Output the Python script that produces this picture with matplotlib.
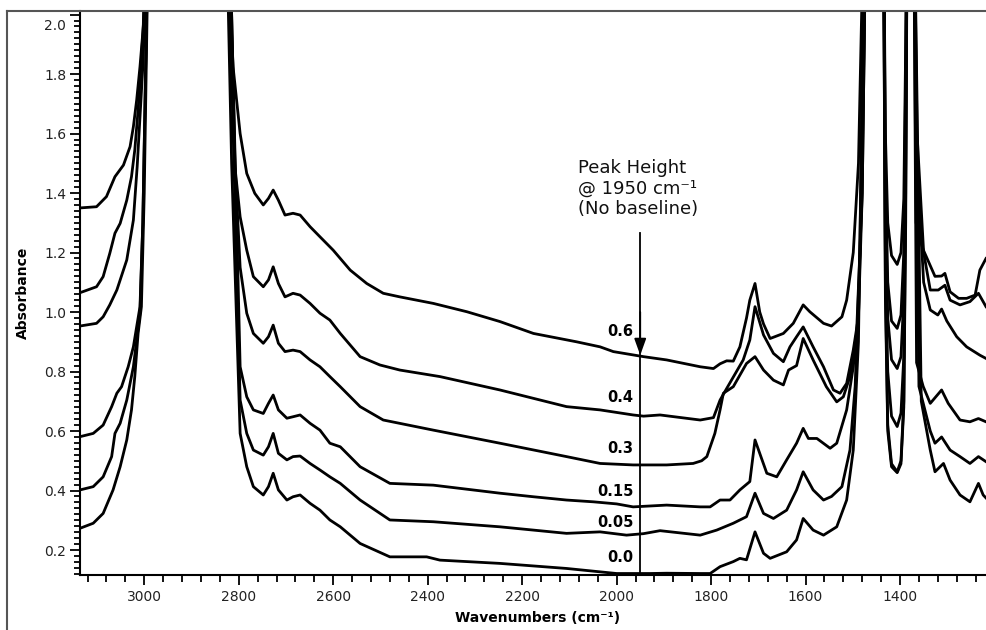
import matplotlib.pyplot as plt
from matplotlib.lines import Line2D
from matplotlib.ticker import MultipleLocator, FormatStrFormatter
from matplotlib.transforms import ScaledTranslation

# ---- spectra (wavenumber, absorbance) ----
wn_60 = [3136, 3101, 3080, 3062, 3044, 3030, 3023, 3016, 3009, 3003, 2999, 2990, 2830,
         2825, 2812, 2797, 2783, 2766, 2748, 2737, 2727, 2716, 2702, 2685, 2670, 2649,
         2628, 2600, 2564, 2529, 2494, 2459, 2388, 2317, 2247, 2176, 2085, 2035, 2007,
         1943, 1894, 1823, 1795, 1781, 1767, 1753, 1739, 1725, 1718, 1707, 1697, 1689,
         1675, 1647, 1626, 1605, 1591, 1562, 1545, 1523, 1513, 1499, 1488, 1480, 1470,
         1436, 1431, 1426, 1418, 1406, 1398, 1392, 1388, 1384, 1372, 1366, 1357, 1351, 1326,
         1312, 1305, 1294, 1276, 1259, 1241, 1231, 1218]
ab_60 = [1.35, 1.354, 1.388, 1.455, 1.494, 1.556, 1.623, 1.713, 1.825, 1.94, 2.03, 2.6, 2.6,
         2.3, 1.825, 1.60, 1.466, 1.399, 1.36, 1.382, 1.41, 1.376, 1.326, 1.332, 1.326, 1.287,
         1.253, 1.208, 1.141, 1.096, 1.063, 1.051, 1.029, 1.001, 0.968, 0.928, 0.90, 0.883, 0.867,
         0.85, 0.839, 0.816, 0.81, 0.826, 0.836, 0.835, 0.883, 0.98, 1.04, 1.096, 1.0, 0.96,
         0.911, 0.928, 0.962, 1.024, 1.001, 0.962, 0.953, 0.984, 1.04, 1.2, 1.5, 2.1, 2.6,
         2.6, 1.6, 1.3, 1.19, 1.16, 1.2, 1.38, 1.9, 2.6, 2.6, 1.3, 1.24, 1.21, 1.12,
         1.121, 1.13, 1.068, 1.046, 1.046, 1.057, 1.141, 1.18]

wn_40 = [3136, 3101, 3087, 3073, 3062, 3051, 3037, 3027, 3020, 3013, 3007, 3002, 2995, 2830,
         2820, 2808, 2797, 2783, 2769, 2748, 2737, 2727, 2716, 2702, 2685, 2670, 2649, 2628,
         2607, 2585, 2543, 2501, 2459, 2374, 2247, 2106, 2035, 1965, 1943, 1908, 1823, 1795,
         1781, 1767, 1732, 1718, 1707, 1689, 1668, 1647, 1633, 1619, 1605, 1584, 1562, 1541,
         1527, 1513, 1499, 1488, 1480, 1470, 1436, 1431, 1426, 1418, 1406, 1398, 1392, 1388,
         1384, 1372, 1364, 1350, 1336, 1319, 1305, 1294, 1273, 1252, 1234, 1218]
ab_40 = [1.065, 1.085, 1.119, 1.197, 1.265, 1.298, 1.376, 1.455, 1.545, 1.679, 1.825, 1.96, 2.6, 2.6,
         2.2, 1.488, 1.32, 1.208, 1.119, 1.085, 1.108, 1.152, 1.096, 1.051, 1.063, 1.057, 1.029, 0.996,
         0.973, 0.928, 0.85, 0.822, 0.805, 0.783, 0.738, 0.682, 0.671, 0.654, 0.65, 0.654, 0.637, 0.645,
         0.704, 0.743, 0.839, 0.906, 1.018, 0.923, 0.861, 0.833, 0.883, 0.917, 0.95, 0.883, 0.816, 0.738,
         0.727, 0.76, 0.872, 0.984, 1.4, 2.6, 2.6, 1.5, 1.1, 0.97, 0.945, 0.99, 1.2, 1.8,
         2.6, 2.6, 1.6, 1.2, 1.074, 1.074, 1.09, 1.04, 1.024, 1.035, 1.063, 1.018]

wn_30 = [3136, 3101, 3087, 3073, 3058, 3037, 3023, 3015, 3009, 3003, 2999, 2990, 2830,
         2815, 2808, 2797, 2783, 2769, 2748, 2737, 2727, 2716, 2702, 2685, 2670, 2649, 2628,
         2607, 2585, 2543, 2494, 2388, 2247, 2106, 2035, 1965, 1894, 1838, 1820, 1809, 1792,
         1781, 1774, 1753, 1725, 1707, 1689, 1668, 1647, 1636, 1619, 1605, 1584, 1556, 1534,
         1520, 1506, 1492, 1480, 1470, 1436, 1431, 1426, 1418, 1406, 1398, 1392, 1388, 1384,
         1372, 1364, 1350, 1336, 1320, 1312, 1301, 1280, 1259, 1231, 1218]
ab_30 = [0.953, 0.962, 0.984, 1.024, 1.074, 1.175, 1.309, 1.488, 1.656, 1.825, 1.99, 2.6, 2.6,
         2.0, 1.5, 1.15, 0.996, 0.928, 0.895, 0.917, 0.956, 0.895, 0.867, 0.872, 0.867, 0.839, 0.816,
         0.783, 0.749, 0.682, 0.637, 0.603, 0.559, 0.514, 0.491, 0.486, 0.486, 0.491, 0.50, 0.514, 0.592,
         0.671, 0.727, 0.749, 0.827, 0.85, 0.805, 0.771, 0.755, 0.805, 0.82, 0.911, 0.839, 0.749, 0.698,
         0.715, 0.783, 0.928, 1.4, 2.6, 2.6, 1.4, 0.98, 0.84, 0.81, 0.85, 1.05, 1.7, 2.6,
         2.6, 1.5, 1.1, 1.007, 0.99, 1.01, 0.97, 0.917, 0.883, 0.855, 0.844]

wn_15 = [3136, 3108, 3087, 3069, 3058, 3048, 3034, 3023, 3016, 3009, 3003, 2995, 2985, 2830,
         2815, 2797, 2783, 2769, 2748, 2737, 2727, 2716, 2698, 2685, 2670, 2649, 2628, 2607,
         2585, 2543, 2480, 2388, 2247, 2176, 2106, 2049, 2000, 1965, 1894, 1823, 1802, 1781,
         1760, 1739, 1718, 1707, 1697, 1682, 1661, 1640, 1619, 1605, 1594, 1576, 1548, 1534,
         1513, 1499, 1488, 1480, 1470, 1436, 1431, 1426, 1418, 1406, 1398, 1392, 1388, 1384,
         1372, 1365, 1351, 1336, 1312, 1298, 1273, 1252, 1234, 1218]
ab_15 = [0.581, 0.592, 0.62, 0.682, 0.727, 0.749, 0.816, 0.883, 0.951, 1.018, 1.3, 2.0, 2.6, 2.6,
         2.0, 0.816, 0.715, 0.671, 0.659, 0.693, 0.721, 0.671, 0.643, 0.648, 0.654, 0.626, 0.603, 0.559,
         0.547, 0.48, 0.424, 0.418, 0.391, 0.379, 0.368, 0.362, 0.355, 0.345, 0.351, 0.345, 0.345, 0.368,
         0.368, 0.402, 0.43, 0.57, 0.525, 0.458, 0.446, 0.503, 0.559, 0.609, 0.575, 0.575, 0.542, 0.559,
         0.671, 0.816, 0.984, 1.5, 2.6, 2.6, 1.2, 0.8, 0.65, 0.615, 0.66, 0.85, 1.5, 2.6,
         2.6, 0.83, 0.75, 0.693, 0.738, 0.693, 0.637, 0.631, 0.642, 0.631]

wn_05 = [3136, 3108, 3087, 3069, 3062, 3051, 3037, 3023, 3016, 3009, 3003, 2995, 2985, 2830,
         2815, 2797, 2783, 2769, 2748, 2737, 2727, 2716, 2698, 2685, 2670, 2649, 2628, 2607,
         2585, 2543, 2480, 2388, 2247, 2106, 2035, 1979, 1943, 1908, 1823, 1788, 1753, 1725,
         1707, 1689, 1668, 1640, 1619, 1605, 1584, 1562, 1545, 1523, 1506, 1495, 1485, 1478,
         1470, 1436, 1431, 1426, 1418, 1406, 1398, 1392, 1388, 1384, 1372, 1360, 1336, 1326, 1312,
         1294, 1273, 1252, 1234, 1218]
ab_05 = [0.402, 0.413, 0.446, 0.514, 0.592, 0.626, 0.704, 0.816, 0.906, 0.996, 1.3, 2.0, 2.6, 2.6,
         1.8, 0.704, 0.592, 0.536, 0.519, 0.547, 0.592, 0.525, 0.503, 0.514, 0.516, 0.491, 0.469, 0.446,
         0.424, 0.368, 0.301, 0.295, 0.278, 0.256, 0.261, 0.25, 0.255, 0.265, 0.25, 0.267, 0.29, 0.312,
         0.391, 0.323, 0.306, 0.334, 0.402, 0.463, 0.402, 0.368, 0.38, 0.413, 0.536, 0.75, 1.2, 2.0,
         2.6, 2.6, 1.1, 0.62, 0.49, 0.463, 0.50, 0.7, 1.4, 2.6, 2.6, 0.75, 0.6, 0.559, 0.58,
         0.536, 0.514, 0.491, 0.514, 0.497]

wn_00 = [3136, 3108, 3087, 3066, 3051, 3037, 3027, 3020, 3013, 3006, 3000, 2992, 2985, 2830,
         2815, 2797, 2783, 2769, 2748, 2737, 2727, 2716, 2698, 2685, 2670, 2649, 2628, 2607,
         2585, 2543, 2480, 2402, 2374, 2247, 2106, 2000, 1929, 1894, 1823, 1802, 1781, 1753,
         1739, 1725, 1707, 1689, 1675, 1640, 1619, 1605, 1584, 1562, 1534, 1513, 1499, 1488,
         1478, 1470, 1436, 1431, 1426, 1418, 1406, 1398, 1392, 1388, 1384, 1372, 1355, 1336, 1326,
         1308, 1294, 1273, 1252, 1234, 1224, 1218]
ab_00 = [0.273, 0.29, 0.323, 0.402, 0.48, 0.57, 0.671, 0.783, 0.928, 1.018, 1.4, 2.2, 2.6, 2.6,
         1.5, 0.592, 0.48, 0.413, 0.385, 0.413, 0.458, 0.402, 0.368, 0.379, 0.385, 0.357, 0.334, 0.301,
         0.278, 0.222, 0.177, 0.177, 0.166, 0.155, 0.138, 0.121, 0.121, 0.122, 0.121, 0.121, 0.144, 0.161,
         0.172, 0.167, 0.261, 0.189, 0.172, 0.194, 0.234, 0.306, 0.267, 0.25, 0.278, 0.368, 0.536, 0.9,
         2.0, 2.6, 2.6, 1.05, 0.6, 0.48, 0.46, 0.49, 0.68, 1.3, 2.6, 2.6, 0.7, 0.536, 0.463,
         0.491, 0.435, 0.385, 0.362, 0.424, 0.385, 0.375]

curve_labels = ["0.6", "0.4", "0.3", "0.15", "0.05", "0.0"]
label_y = [0.933, 0.714, 0.540, 0.398, 0.294, 0.176]

fig = plt.figure(figsize=(9.86, 6.3), dpi=100)
ax = fig.add_axes([80 / 986, 55 / 630, 906 / 986, 564 / 630])

series = [(wn_60, ab_60), (wn_40, ab_40), (wn_30, ab_30),
          (wn_15, ab_15), (wn_05, ab_05), (wn_00, ab_00)]
for wn, ab in series:
    ax.plot(wn, ab, color="black", lw=2.0, solid_joinstyle="round")

for lab, y in zip(curve_labels, label_y):
    ax.text(1965, y, lab, ha="right", va="center", fontsize=10.5, fontweight="bold")

# marker line at 1950 cm-1
ax.plot([1950, 1950], [1.266, 0.0], color="black", lw=1.3)
ax.annotate("", xy=(1950, 0.855), xytext=(1950, 1.0),
            arrowprops=dict(arrowstyle="-|>,head_length=0.5,head_width=0.18",
                            mutation_scale=20, color="black", lw=1.3, shrinkA=0, shrinkB=0))
ax.text(2082, 1.515, "Peak Height\n@ 1950 cm\u207b\u00b9\n(No baseline)",
        ha="left", va="top", fontsize=13, color="#111111")

ax.set_xlim(3136, 1218)
ax.set_ylim(0.116, 2.012)
ax.xaxis.set_major_locator(MultipleLocator(200))
ax.xaxis.set_minor_locator(MultipleLocator(40))
ax.yaxis.set_major_locator(MultipleLocator(0.2))
ax.yaxis.set_minor_locator(MultipleLocator(0.02))
ax.yaxis.set_major_formatter(FormatStrFormatter("%.1f"))
ax.tick_params(axis="x", which="major", direction="out", length=7, width=1.3,
               labelsize=10, labelcolor="#222222", pad=4)
ax.tick_params(axis="x", which="minor", direction="out", length=5, width=1.3)
ax.tick_params(axis="y", which="major", direction="out", length=7, width=1.3,
               labelsize=10, labelcolor="#222222", pad=3)
ax.tick_params(axis="y", which="minor", direction="out", length=4, width=1.3)
for s in ["top", "right"]:
    ax.spines[s].set_visible(False)
for s in ["left", "bottom"]:
    ax.spines[s].set_linewidth(1.5)

# push the 2.0 label down so it stays inside the frame
for t in ax.get_yticklabels():
    if t.get_text() == "2.0":
        t.set_transform(t.get_transform() + ScaledTranslation(0, -7 / 72, fig.dpi_scale_trans))

fig.text(538 / 986, 1 - 618 / 630, "Wavenumbers (cm\u207b\u00b9)", ha="center", va="center",
         fontsize=10, fontweight="bold")
fig.text(23 / 986, 1 - 293 / 630, "Absorbance", ha="center", va="center", rotation=90,
         fontsize=10, fontweight="bold")

# outer frame
fig.add_artist(Line2D([7 / 986, 1], [1 - 11 / 630, 1 - 11 / 630], color="#555555", lw=1.5))
fig.add_artist(Line2D([7 / 986, 7 / 986], [1 - 11 / 630, 0], color="#555555", lw=1.5))

fig.savefig("out.png", dpi=100)
